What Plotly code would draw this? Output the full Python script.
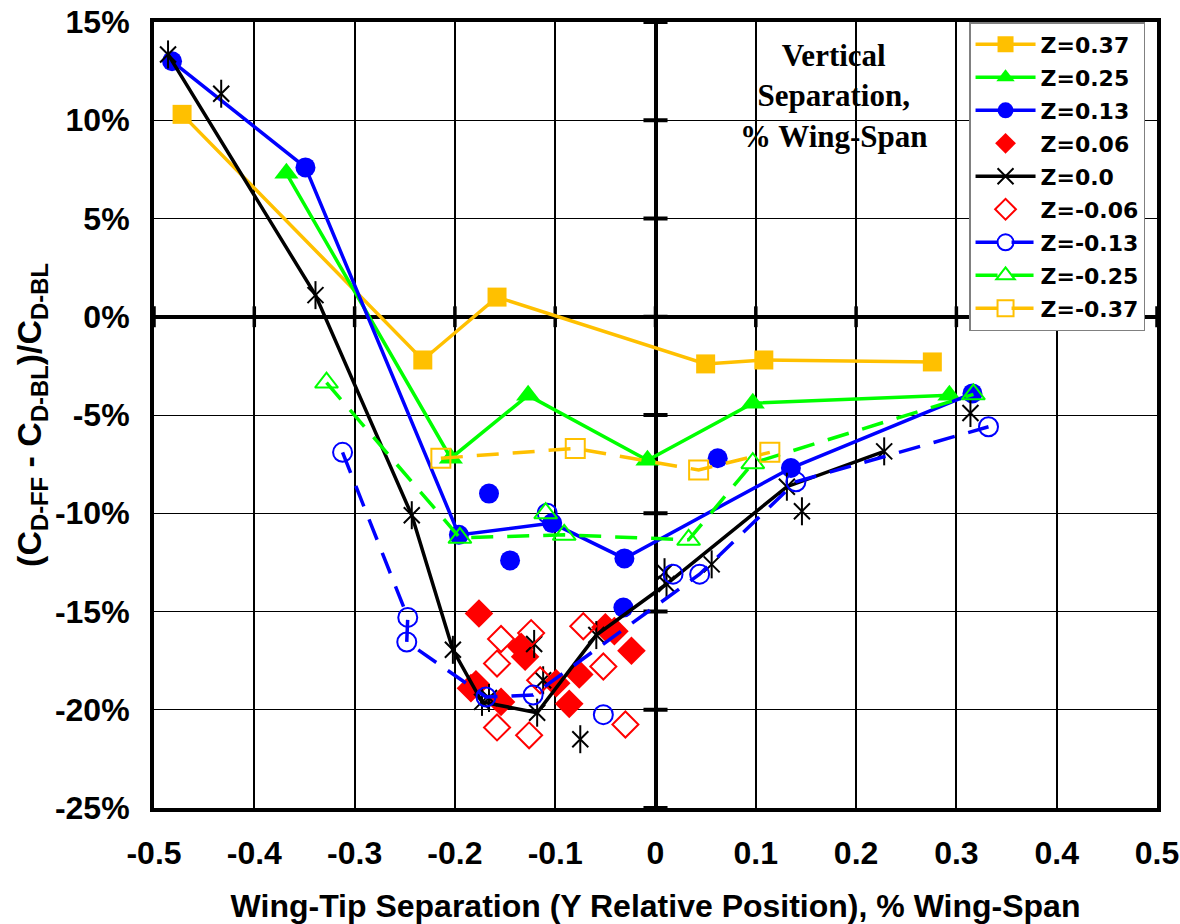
import plotly.graph_objects as go

# Wing-tip separation (x) vs. drag change in percent (y).
# None breaks a polyline; points after a break are drawn as loose markers.
Z037_X = [-0.472, -0.232, -0.158, 0.050, 0.108, 0.276]
Z037_Y = [10.3, -2.2, 1.0, -2.4, -2.2, -2.3]

Z025_X = [-0.368, -0.204, -0.127, -0.008, 0.097, 0.293]
Z025_Y = [7.3, -7.2, -4.0, -7.3, -4.4, -4.0]

Z013_X = [-0.482, -0.349, -0.196, -0.103, -0.031, 0.135, 0.316,
          None, -0.166, None, -0.145, None, -0.032, None, 0.062]
Z013_Y = [13.0, 7.6, -11.1, -10.5, -12.3, -7.7, -3.9,
          None, -9.0, None, -12.4, None, -14.8, None, -7.2]

Z006_X = [-0.176, -0.134, -0.130, -0.184, -0.179, -0.154,
          -0.099, -0.076, -0.086, -0.050, -0.041, -0.024]
Z006_Y = [-15.1, -16.8, -17.3, -18.9, -18.7, -19.6,
          -18.65, -18.2, -19.7, -15.8, -16.0, -17.0]

Z000_X = [-0.486, -0.339, -0.243, -0.202, -0.173, -0.118, -0.059, 0.011, 0.131, 0.228,
          None, -0.433, None, -0.166, None, -0.121, None, -0.112, None, -0.075,
          None, 0.009, None, 0.056, None, 0.146, None, 0.314]
Z000_Y = [13.35, 1.1, -10.1, -16.95, -19.6, -20.15, -16.2, -13.6, -8.65, -6.85,
          None, 11.35, None, -19.4, None, -16.65, None, -18.5, None, -21.5,
          None, -13.0, None, -12.6, None, -9.9, None, -4.9]

ZM006_X = [-0.154, -0.124, -0.158, -0.115, -0.072, -0.052, -0.158, -0.126, -0.030]
ZM006_Y = [-16.4, -16.1, -17.65, -18.5, -15.75, -17.8, -20.9, -21.3, -20.75]

ZM013_X = [-0.312, -0.247, -0.248, -0.169, -0.122, 0.044, 0.140, 0.332,
           None, -0.108, None, -0.052, None, 0.0175]
ZM013_Y = [-6.9, -15.3, -16.55, -19.35, -19.25, -13.1, -8.4, -5.6,
           None, -10.0, None, -20.25, None, -13.1]

ZM025_X = [-0.328, -0.195, -0.091, 0.033, 0.097, 0.317, None, -0.1095]
ZM025_Y = [-3.35, -11.25, -11.1, -11.35, -7.45, -3.95, None, -10.0]

ZM037_X = [-0.214, -0.080, 0.043, 0.114]
ZM037_Y = [-7.2, -6.7, -7.8, -6.9]

X_TICKS = [-0.5, -0.4, -0.3, -0.2, -0.1, 0.0, 0.1, 0.2, 0.3, 0.4, 0.5]
X_TICK_LABELS = ["-0.5", "-0.4", "-0.3", "-0.2", "-0.1", "0", "0.1", "0.2", "0.3", "0.4", "0.5"]
Y_TICKS = [15, 10, 5, 0, -5, -10, -15, -20, -25]
Y_TICK_LABELS = ["15%", "10%", "5%", "0%", "-5%", "-10%", "-15%", "-20%", "-25%"]

GOLD = "#FFC000"
GREEN = "#00FF00"
BLUE = "#0000FF"
RED = "#FF0000"
BLACK = "#000000"
DASH = "22px,14px"

fig = go.Figure()


def series(name, x, y, color, symbol, size, dash=None, lines=True, open_marker=False):
    marker = dict(symbol=symbol, size=size, color=color)
    if open_marker:
        marker["line"] = dict(color=color, width=2)
    else:
        marker["line"] = dict(width=0)
    fig.add_trace(go.Scatter(
        x=x, y=y, name=name, legendgroup=name,
        mode="lines+markers" if lines else "markers",
        line=dict(color=color, width=3.5, dash=dash) if lines else None,
        marker=marker,
        connectgaps=False,
    ))


series("Z=0.37", Z037_X, Z037_Y, GOLD, "square", 19)
series("Z=0.25", Z025_X, Z025_Y, GREEN, "triangle-up", 21)
series("Z=0.13", Z013_X, Z013_Y, BLUE, "circle", 20)
series("Z=0.06", Z006_X, Z006_Y, RED, "diamond", 22, lines=False)
series("Z=0.0", Z000_X, Z000_Y, BLACK, "x-thin-open", 16, open_marker=True)
# vertical stroke completes the six-armed asterisk
fig.add_trace(go.Scatter(
    x=Z000_X, y=Z000_Y, mode="markers", showlegend=False, hoverinfo="skip",
    legendgroup="Z=0.0",
    marker=dict(symbol="line-ns-open", size=20, color=BLACK, line=dict(color=BLACK, width=2)),
))
series("Z=-0.06", ZM006_X, ZM006_Y, RED, "diamond-open", 20, lines=False, open_marker=True)
series("Z=-0.13", ZM013_X, ZM013_Y, BLUE, "circle-open", 19, dash=DASH, open_marker=True)
series("Z=-0.25", ZM025_X, ZM025_Y, GREEN, "triangle-up-open", 20, dash=DASH, open_marker=True)
series("Z=-0.37", ZM037_X, ZM037_Y, GOLD, "square-open", 19, dash=DASH, open_marker=True)

# cross tick marks on the two zero axes
for yv in Y_TICKS:
    fig.add_shape(type="line", xref="x", yref="y", x0=-0.012, x1=0.012, y0=yv, y1=yv,
                  line=dict(color=BLACK, width=4), layer="between")
for xv in X_TICKS:
    fig.add_shape(type="line", xref="x", yref="y", x0=xv, x1=xv, y0=-0.53, y1=0.53,
                  line=dict(color=BLACK, width=3.5), layer="between")

SANS = "Liberation Sans, Arial, sans-serif"
TICK_FONT = dict(family=SANS, size=32, color=BLACK, weight="bold")

fig.update_xaxes(
    range=[-0.5, 0.5], tickvals=X_TICKS, ticktext=X_TICK_LABELS,
    showgrid=True, gridcolor=BLACK, gridwidth=2,
    zeroline=True, zerolinecolor=BLACK, zerolinewidth=4,
    showline=True, linecolor=BLACK, linewidth=4, mirror=True,
    ticks="", tickfont=TICK_FONT, ticklabelstandoff=14,
    title=dict(text="Wing-Tip Separation (Y Relative Position), % Wing-Span",
               font=dict(family=SANS, size=32, color=BLACK, weight="bold"),
               standoff=26),
)
fig.update_yaxes(
    range=[-25, 15], tickvals=Y_TICKS, ticktext=Y_TICK_LABELS,
    showgrid=True, gridcolor=BLACK, gridwidth=1,
    zeroline=True, zerolinecolor=BLACK, zerolinewidth=4,
    showline=True, linecolor=BLACK, linewidth=4, mirror=True,
    ticks="", tickfont=TICK_FONT, ticklabelstandoff=14,
    title=dict(text="(C<sub>D-FF</sub> - C<sub>D-BL</sub>)/C<sub>D-BL</sub>",
               font=dict(family=SANS, size=34, color=BLACK, weight="bold"),
               standoff=4),
)

fig.add_annotation(
    xref="paper", yref="paper", x=0.678, y=0.906, xanchor="center", yanchor="middle",
    text="Vertical<br>Separation,<br>% Wing-Span", showarrow=False, align="center",
    font=dict(family="Liberation Serif, Times New Roman, serif", size=31, color=BLACK, weight="bold"),
)

fig.update_layout(
    width=1180, height=924,
    margin=dict(l=154, r=23, t=22, b=116, autoexpand=False),
    paper_bgcolor="white", plot_bgcolor="white",
    legend=dict(
        x=0.8126, y=1.0, xanchor="left", yanchor="top",
        bgcolor="white", bordercolor="#808080", borderwidth=1.5,
        font=dict(family="DejaVu Sans, sans-serif", size=22, color=BLACK, weight="bold"),
        itemwidth=60, tracegroupgap=1.4,
    ),
)

fig.write_html("out.html")
